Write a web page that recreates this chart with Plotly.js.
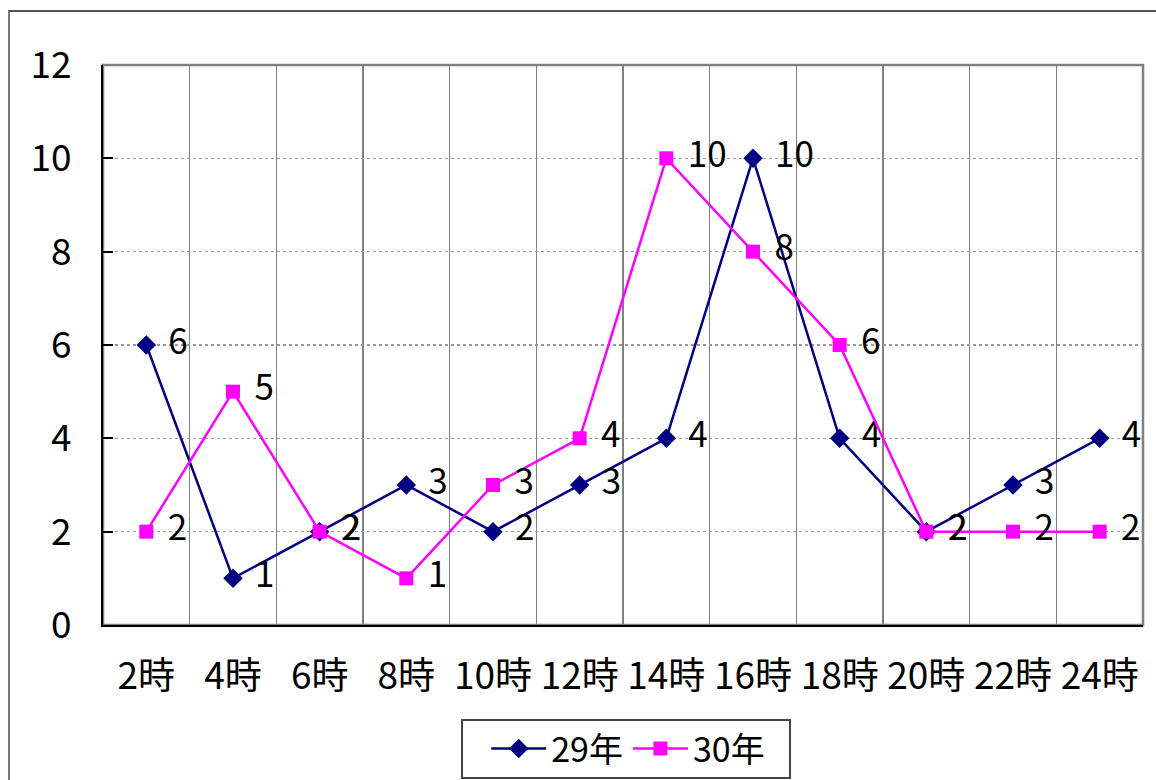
<!DOCTYPE html>
<html>
<head>
<meta charset="utf-8">
<script src="https://cdn.plot.ly/plotly-3.0.1.min.js"></script>
<style>
  html, body { margin: 0; padding: 0; background: #fff; }
  #wrap { position: relative; width: 1156px; height: 780px; overflow: hidden; }
  #frame { position: absolute; left: 8px; top: 10px; width: 1200px; height: 800px;
           border-top: 2px solid #555; border-left: 2px solid #777; pointer-events: none; }
</style>
</head>
<body>
<div id="wrap">
  <div id="chart" style="width:1156px;height:780px;"></div>
  <div id="frame"></div>
</div>
<script>
const categories = ["2時","4時","6時","8時","10時","12時","14時","16時","18時","20時","22時","24時"];
const series29 = [6,1,2,3,2,3,4,10,4,2,3,4];
const series30 = [2,5,2,1,3,4,10,8,6,2,2,2];
const seriesNames = ["29年","30年"];
const yTicks = [0,2,4,6,8,10,12];

const FONT = '"Noto Sans CJK JP", "Noto Sans", sans-serif';
const FS = 37;
const LFS = 35;

function lbl(arr){ return arr.map(v => "\u2004" + String(v)); }

const traces = [
  {
    x: categories, y: series29, name: seriesNames[0], type: 'scatter',
    mode: 'lines+markers+text',
    line: {color: '#000080', width: 2.5},
    marker: {symbol: 'diamond', size: 15, color: '#000080'},
    text: lbl(series29), textposition: 'middle right',
    textfont: {family: FONT, size: LFS, color: '#000'},
    cliponaxis: false
  },
  {
    x: categories, y: series30, name: seriesNames[1], type: 'scatter',
    mode: 'lines+markers+text',
    line: {color: '#FF00FF', width: 2.5},
    marker: {symbol: 'square', size: 14, color: '#FF00FF'},
    text: lbl(series30), textposition: 'middle right',
    textfont: {family: FONT, size: LFS, color: '#000'},
    cliponaxis: false
  }
];

const layout = {
  width: 1156, height: 780,
  margin: {l: 103, r: 13, t: 65, b: 155, autoexpand: false},
  paper_bgcolor: 'rgba(0,0,0,0)',
  plot_bgcolor: '#fff',
  font: {family: FONT, size: FS, color: '#000'},
  showlegend: true,
  xaxis: {
    type: 'category',
    range: [-0.5, 11.5],
    tickson: 'boundaries',
    showgrid: true, gridcolor: '#808080', gridwidth: 1.5,
    showline: true, linecolor: '#000', linewidth: 2,
    ticks: '', ticklabelstandoff: 18,
    tickfont: {family: FONT, size: FS, color: '#000'},
    zeroline: false, fixedrange: true, automargin: false
  },
  yaxis: {
    range: [0, 12],
    tickvals: yTicks,
    showgrid: true, gridcolor: '#999', gridwidth: 1.2, griddash: 'dot',
    showline: true, linecolor: '#000', linewidth: 2,
    ticks: 'inside', ticklen: 10, tickcolor: '#000', tickwidth: 2,
    ticklabelstandoff: 22,
    tickfont: {family: FONT, size: FS, color: '#000'},
    zeroline: false, fixedrange: true, automargin: false
  },
  legend: {
    orientation: 'h',
    x: 0.505, xanchor: 'center',
    y: -0.2214, yanchor: 'middle',
    borderwidth: 0,
    bgcolor: 'rgba(0,0,0,0)',
    font: {family: FONT, size: 34, color: '#000'},
    itemwidth: 55,
    tracegroupgap: 0
  },
  shapes: [
    {type: 'rect', xref: 'paper', yref: 'paper', x0: 0, x1: 1, y0: 0, y1: 1,
     line: {color: '#808080', width: 2.5}, layer: 'below'},
    {type: 'rect', xref: 'paper', yref: 'paper', x0: 0.3452, x1: 0.6606, y0: -0.2732, y1: -0.1696,
     line: {color: '#444', width: 2}, fillcolor: '#fff', layer: 'below'}
  ]
};

Plotly.newPlot('chart', traces, layout, {displayModeBar: false, staticPlot: true});
</script>
</body>
</html>
